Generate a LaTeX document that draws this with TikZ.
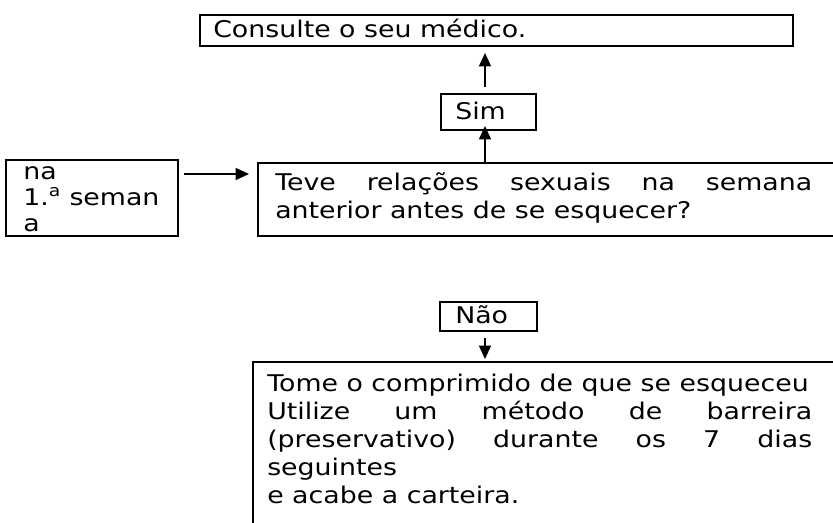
\documentclass[tikz,border=0pt]{standalone}
\usepackage{fontspec}
\setmainfont{DejaVu Sans}[FakeStretch=1.165]
\usetikzlibrary{arrows.meta,calc}
\newcommand{\jline}[2]{\hbox to #1{#2}}
\begin{document}
\begin{tikzpicture}[x=0.75pt,y=-0.75pt,
  box/.style={draw,line width=1.5pt,inner sep=0pt},
  txt/.style={inner sep=0pt,anchor=base west,font=\fontsize{17.25}{21}\selectfont,align=left},
  arr/.style={line width=1.2pt,-{Triangle[width=9pt,length=10pt]}}]
\useasboundingbox (0,0) rectangle (833,523);
\clip (0,0) rectangle (833,523);
% boxes
\node[box,minimum width=444.75pt,minimum height=23.25pt] (top) at (496.5,30.5) {};
\node[box,minimum width=71.25pt,minimum height=27pt] (sim) at (488.5,112) {};
\node[box,minimum width=129pt,minimum height=57pt] (left) at (92,198) {};
\node[box,minimum width=481.5pt,minimum height=54.75pt] (main) at (579,199.5) {};
\node[box,minimum width=72.75pt,minimum height=21.75pt] (nao) at (488.5,316.5) {};
\node[box,minimum width=485.25pt,minimum height=178.5pt] (bottom) at (576.5,481) {};
% texts
\node[txt] (ttop) at (213,38) {Consulte o seu médico.};
\node[txt] (tsim) at (455,120) {Sim};
\node[txt] (tnao) at (455,324) {Não};
\node[txt,anchor=north west,font=\fontsize{17.25}{19.5}\selectfont] (tleft) at (23,160.8) {\strut na\\1.\textsuperscript{a} seman\\a};
\node[txt,anchor=north west] (tmain) at (275,170.4) {\strut\jline{402.75pt}{Teve\hfill relações\hfill sexuais\hfill na\hfill semana}\\anterior antes de se esquecer?};
\node[txt,anchor=north west] (tbottom) at (267,371.4) {\strut Tome o comprimido de que se esqueceu\\
\jline{408.75pt}{Utilize\hfill um\hfill método\hfill de\hfill barreira}\\
\jline{408.75pt}{(preservativo)\hfill durante\hfill os\hfill 7\hfill dias}\\
seguintes\\e acabe a carteira.};
% connectors
\draw[arr] ($(sim.north)+(-3.5,-6)$) -- ($(top.south)+(-11.5,6)$);
\draw[arr] ($(main.north)+(-94,0)$) -- ($(sim.south)+(-3.5,-5)$);
\draw[arr] ($(left.east)+(5,-24)$) -- ($(main.west)+(-8,-25.5)$);
\draw[arr] ($(nao.south)+(-3.5,6)$) -- ($(bottom.north)+(-91.5,-2)$);
\end{tikzpicture}
\end{document}
